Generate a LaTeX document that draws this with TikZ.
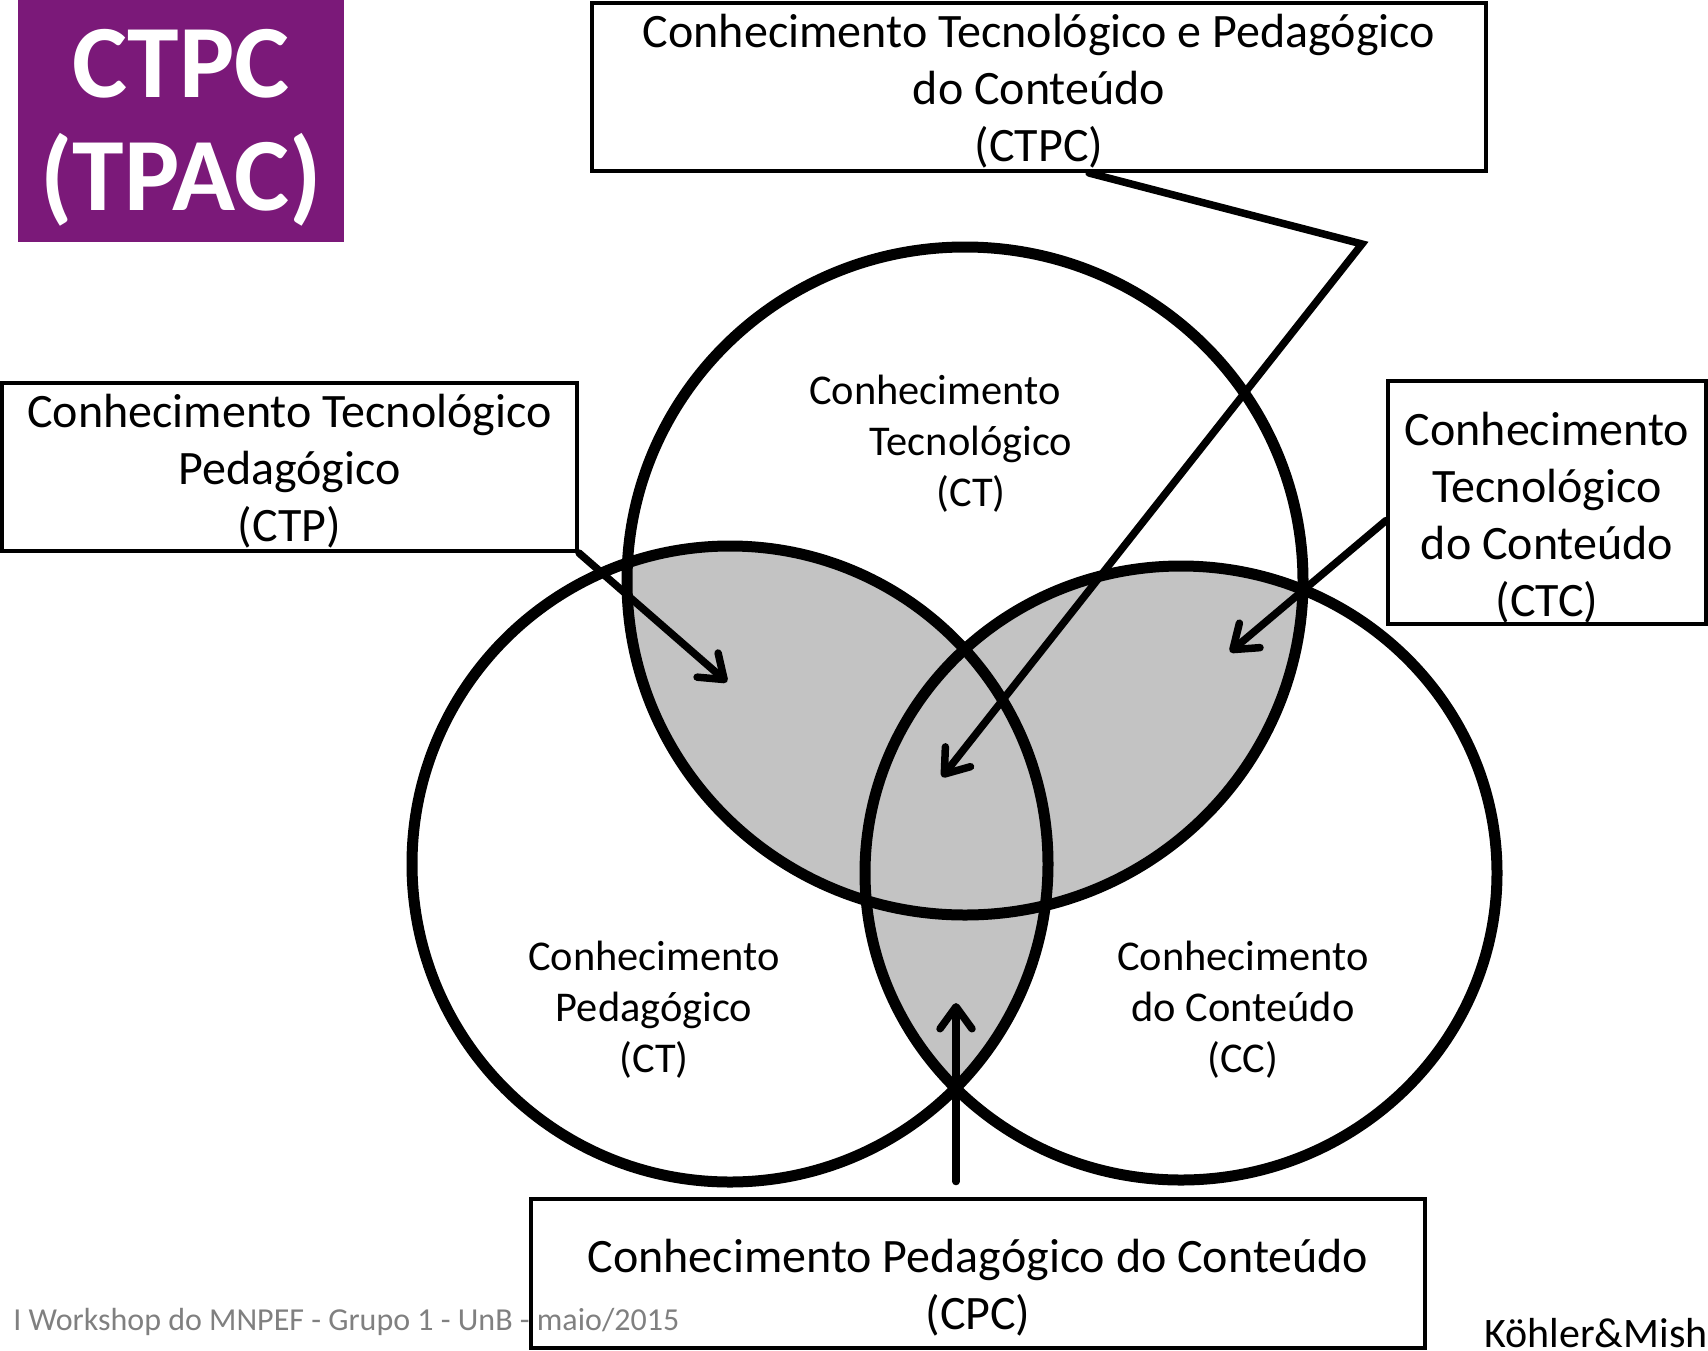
\documentclass[tikz,border=0pt]{standalone}
\usepackage{fontspec}
\setmainfont{Carlito}
\usetikzlibrary{arrows.meta}
\definecolor{ctpcpurple}{RGB}{123,25,121}
\definecolor{lensgray}{RGB}{195,195,195}
\definecolor{footgray}{RGB}{128,128,128}

\begin{document}
\begin{tikzpicture}[x=0.5pt, y=-0.5pt,
        box/.style={draw, line width=2pt, inner sep=0pt},
        boxtext/.style={inner sep=0pt, align=center, font=\fontsize{24}{28.5}\selectfont},
        circlabel/.style={align=center, font=\fontsize{21.2}{25.5}\selectfont},
        ring/.style={line width=5.5pt},
        pointer/.style={line width=3.75pt, line cap=round, -{Straight Barb[length=11pt, width=16pt, round]}}]
        \useasboundingbox (0, 0) rectangle (1708, 1350);
        % centres of the three circles
        \coordinate (ctcen) at (965, 581);
        \coordinate (cpcen) at (730, 864);
        \coordinate (cccen) at (1181, 873);
        % grey overlaps
        \begin{scope}
            \clip (ctcen) ellipse [x radius=338, y radius=334];
            \fill[lensgray] (cpcen) circle [radius=318];
            \fill[lensgray] (cccen) ellipse [x radius=316, y radius=307];
        \end{scope}
        \begin{scope}
            \clip (cpcen) circle [radius=318];
            \fill[lensgray] (cccen) ellipse [x radius=316, y radius=307];
        \end{scope}
        \draw[ring] (ctcen) ellipse [x radius=338, y radius=334];
        \draw[ring] (cpcen) circle [radius=318];
        \draw[ring] (cccen) ellipse [x radius=316, y radius=307];
        % labels inside the circles
        \node[circlabel] (ctlabel) at (971, 444) {Conhecimento\hspace*{36pt}\\Tecnológico\\(CT)};
        \node[circlabel] (cplabel) at (654, 1010) {Conhecimento\\Pedagógico\\(CT)};
        \node[circlabel] (cclabel) at (1243, 1010) {Conhecimento\\do Conteúdo\\(CC)};
        % title block
        \node[fill=ctpcpurple, inner sep=0pt, minimum width=163pt, minimum height=121pt] (tpac) at (181, 121) {};
        \node[text=white, inner sep=0pt, align=center, font=\fontsize{52}{56.5}\selectfont\bfseries] (tpactext) at (181, 128) {CTPC\\(TPAC)};
        % boxes
        \node[box, minimum width=447pt, minimum height=84pt,
            label={[boxtext, yshift=-2.2pt]center:Conhecimento Tecnológico e Pedagógico\\do Conteúdo\\(CTPC)}] (ctpc) at (1039, 87) {};
        \node[box, minimum width=287.5pt, minimum height=84pt,
            label={[boxtext, yshift=-2pt]center:Conhecimento Tecnológico\\Pedagógico\\(CTP)}] (ctp) at (289.5, 467) {};
        \node[box, minimum width=159pt, minimum height=121.5pt,
            label={[boxtext, yshift=-7.5pt]center:Conhecimento\\Tecnológico\\do Conteúdo\\(CTC)}] (ctc) at (1547, 502.5) {};
        \node[box, minimum width=447pt, minimum height=74.5pt,
            label={[boxtext, yshift=-7.3pt]center:Conhecimento Pedagógico do Conteúdo\\(CPC)}] (cpc) at (978, 1273) {};
        % arrows
        \coordinate (ctpcbend) at (1362, 244);
        \coordinate (ctpctip) at (942, 777);
        \coordinate (ctptip) at (727, 682);
        \coordinate (ctctip) at (1230, 652);
        \coordinate (cpctip) at (956, 1003);
        \draw[pointer] ([xshift=25pt]ctpc.south) -- (ctpcbend) -- (ctpctip);
        \draw[pointer] (ctp.south east) -- (ctptip);
        \draw[pointer] ([yshift=-9pt]ctc.west) -- (ctctip);
        \draw[pointer] ([xshift=-11pt, yshift=7.5pt]cpc.north) -- (cpctip);
        % footer
        \node[anchor=base west, inner sep=0pt, text=footgray, font=\fontsize{16}{19}\selectfont] (footer) at (13, 1330) {I Workshop do MNPEF - Grupo 1 - UnB - maio/2015};
        \node[anchor=base west, inner sep=0pt, font=\fontsize{21}{25}\selectfont] (credit) at (1484, 1347) {Köhler\&Mish};
\end{tikzpicture}
\end{document}
